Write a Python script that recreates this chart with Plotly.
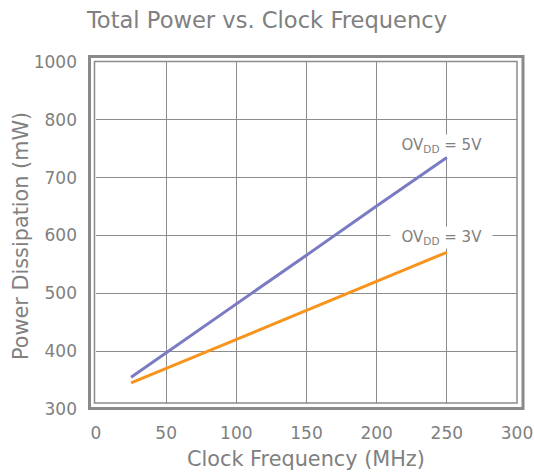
import plotly.graph_objects as go

# Data
freq_mhz = [25, 50, 100, 150, 200, 250]
power_5v = [355, 397, 482, 566, 651, 735]
power_3v = [345, 370, 420, 470, 521, 571]
y_tick_vals = [300, 400, 500, 600, 700, 800, 900]
y_tick_text = ["300", "400", "500", "600", "700", "800", "1000"]
x_tick_vals = [0, 50, 100, 150, 200, 250, 300]
label_5v = "OV<sub>DD</sub> = 5V"
label_3v = "OV<sub>DD</sub> = 3V"
x_title = "Clock Frequency (MHz)"
y_title = "Power Dissipation (mW)"

TEXT = "#808080"
GRID = "#8c8c8c"
FONT = "DejaVu Sans"

W, H = 534, 475
L, R, T, B = 96, 17, 62, 66
pw, ph = W - L - R, H - T - B

def px(x):
    return (x - L) / pw

def py(y):
    return (H - B - y) / ph

fig = go.Figure()
fig.add_trace(go.Scatter(x=freq_mhz, y=power_5v, mode="lines",
                         line=dict(color="#7b7bc4", width=3), showlegend=False))
fig.add_trace(go.Scatter(x=freq_mhz, y=power_3v, mode="lines",
                         line=dict(color="#f7941e", width=3), showlegend=False))

shapes = [
    # white mask between inner and outer bottom frame
    dict(type="rect", xref="paper", yref="paper", x0=px(93), x1=px(518), y0=py(410), y1=py(403.5),
         fillcolor="white", line=dict(width=0), layer="above"),
    # inner frame
    dict(type="rect", xref="paper", yref="paper", x0=px(94.5), x1=px(517), y0=py(403), y1=py(61.5),
         line=dict(color=GRID, width=1.5), layer="above"),
    # outer frame
    dict(type="rect", xref="paper", yref="paper", x0=px(89.5), x1=px(523), y0=py(408.5), y1=py(56.5),
         line=dict(color="#8a8a8a", width=3), layer="above"),
]

annotations = [
    dict(x=246.5, y=756, xref="x", yref="y", text="&nbsp;&nbsp;" + label_5v + "&nbsp;&nbsp;",
         showarrow=False, font=dict(family=FONT, size=15, color=TEXT), bgcolor="white", borderpad=1),
    dict(x=246.5, y=596, xref="x", yref="y", text="&nbsp;&nbsp;" + label_3v + "&nbsp;&nbsp;",
         showarrow=False, font=dict(family=FONT, size=15, color=TEXT), bgcolor="white", borderpad=1),
    dict(x=px(306), y=py(459), xref="paper", yref="paper", text=x_title, showarrow=False,
         xanchor="center", yanchor="middle", font=dict(family=FONT, size=20.8, color=TEXT)),
    dict(x=px(21), y=py(236), xref="paper", yref="paper", text=y_title, showarrow=False,
         textangle=-90, xanchor="center", yanchor="middle",
         font=dict(family=FONT, size=20.8, color=TEXT)),
]

fig.update_layout(
    template="none",
    width=W, height=H, autosize=False,
    margin=dict(l=L, r=R, t=T, b=B, pad=0),
    paper_bgcolor="white", plot_bgcolor="white",
    font=dict(family=FONT, color=TEXT),
    title=dict(text="Total Power vs. Clock Frequency", x=267 / W, xanchor="center",
               y=1 - 20 / H, yanchor="middle", font=dict(family=FONT, size=22.6, color=TEXT)),
    shapes=shapes,
    annotations=annotations,
)
fig.update_xaxes(range=[0, 300], tickvals=x_tick_vals, showgrid=True, gridcolor=GRID, gridwidth=1,
                 zeroline=False, showline=False, ticks="", ticklabelstandoff=12, automargin=False,
                 tickfont=dict(family=FONT, size=17, color=TEXT))
fig.update_yaxes(range=[300, 900], tickvals=y_tick_vals, ticktext=y_tick_text, showgrid=True,
                 gridcolor=GRID, gridwidth=1, zeroline=False, showline=False, ticks="",
                 automargin=False, ticklabelstandoff=18, tickfont=dict(family=FONT, size=17, color=TEXT))

fig.write_html("out.html",
               config={"displayModeBar": False, "responsive": False},
               post_script="document.body.style.margin='0';document.body.style.overflow='hidden';")
